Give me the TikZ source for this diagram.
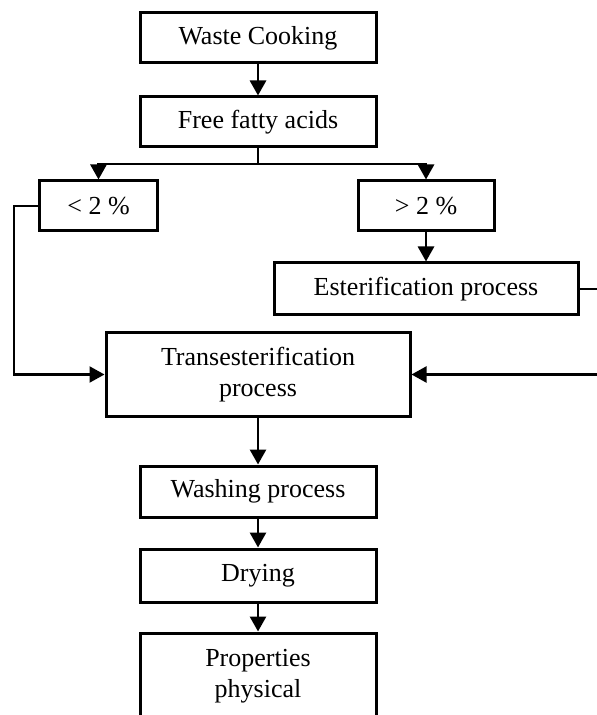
\documentclass[tikz,border=0pt]{standalone}
\usepackage{fontspec}
\setmainfont{Liberation Serif}
\usetikzlibrary{arrows.meta}

\begin{document}
\begin{tikzpicture}[
  x=0.5pt, y=-0.5pt,
  pbox/.style={draw, line width=1.5pt, align=center, inner sep=2pt, font=\fontsize{13}{15.5}\selectfont},
  flow/.style={line width=1.4pt, -{Triangle[length=7.5pt, width=8pt]}},
  wire/.style={line width=1.1pt, -{Triangle[length=7.5pt, width=8pt]}}
]
  \useasboundingbox (0,0) rectangle (596,715);
  \node[pbox, minimum width=118pt, minimum height=25pt] (waste) at (258,38) {Waste Cooking};
  \node[pbox, minimum width=118pt, minimum height=25pt] (ffa) at (258,122) {Free fatty acids};
  \node[pbox, minimum width=59pt, minimum height=25pt] (low) at (98.5,206) {< 2 \%};
  \node[pbox, minimum width=68pt, minimum height=25pt] (high) at (426,206) {> 2 \%};
  \node[pbox, minimum width=152pt, minimum height=26pt] (ester) at (426,289) {Esterification process};
  \node[pbox, minimum width=152pt, minimum height=42pt] (trans) at (258,374.5) {Transesterification\\process};
  \node[pbox, minimum width=118pt, minimum height=25.5pt] (wash) at (258,491.5) {Washing process};
  \node[pbox, minimum width=118pt, minimum height=26.5pt] (dry) at (258,575.5) {Drying};
  \node[pbox, minimum width=118pt, minimum height=43pt] (prop) at (258,676) {Properties\\physical};
  \coordinate (split) at (258,164);
  \coordinate (leftrail) at (14,0);
  \coordinate (rightrail) at (602,0);
  \draw[flow] (waste) -- (ffa);
  \draw[line width=1.4pt] (ffa.south) -- (split);
  \draw[flow] (split) -| (low.north);
  \draw[flow] (split) -| (high.north);
  \draw[flow] (high) -- (ester);
  \draw[wire] (low.west) -- (low.west -| leftrail) |- (trans.west);
  \draw[wire] (ester.east) -- (ester.east -| rightrail) |- (trans.east);
  \draw[flow] (trans) -- (wash);
  \draw[flow] (wash) -- (dry);
  \draw[flow] (dry) -- (prop);
\end{tikzpicture}
\end{document}
